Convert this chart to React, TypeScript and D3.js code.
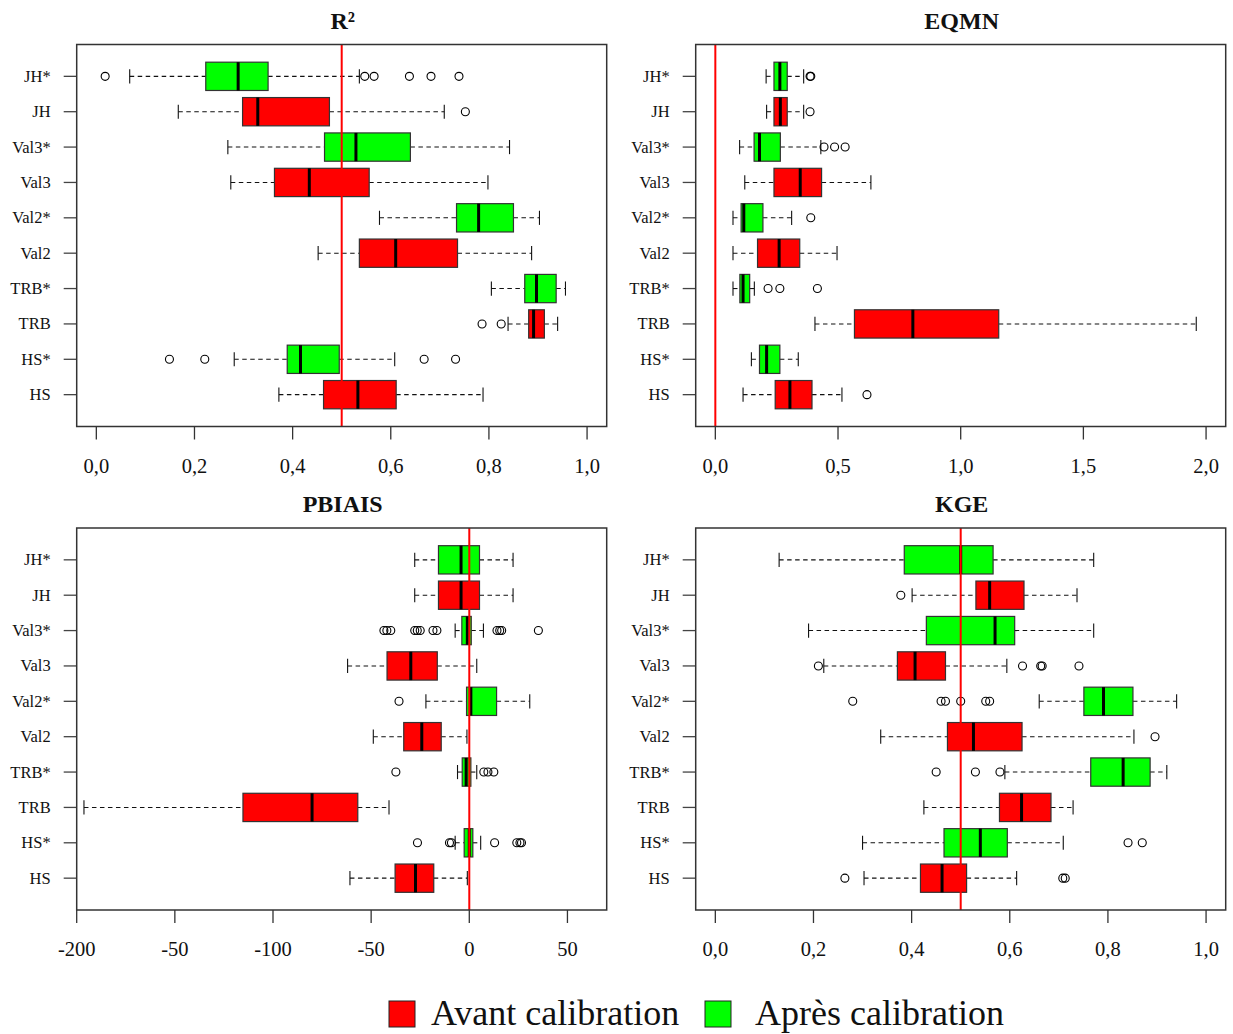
import React from "react";
import * as d3 from "d3";

// Categories from bottom (position 1) to top (position 10)
const categories = ["HS", "HS*", "TRB", "TRB*", "Val2", "Val2*", "Val3", "Val3*", "JH", "JH*"];

// Five-number summaries per category: [lower whisker, Q1, median, Q3, upper whisker]
const r2Stats = [
  [0.372, 0.463, 0.533, 0.611, 0.788],
  [0.281, 0.389, 0.416, 0.495, 0.608],
  [0.839, 0.881, 0.891, 0.913, 0.94],
  [0.805, 0.873, 0.897, 0.937, 0.956],
  [0.452, 0.536, 0.61, 0.736, 0.887],
  [0.577, 0.734, 0.779, 0.85, 0.903],
  [0.274, 0.363, 0.434, 0.556, 0.798],
  [0.268, 0.465, 0.529, 0.64, 0.842],
  [0.167, 0.298, 0.329, 0.475, 0.709],
  [0.068, 0.223, 0.289, 0.35, 0.536],
];
const r2Outliers = [
  [],
  [0.149, 0.221, 0.668, 0.732],
  [0.786, 0.825],
  [],
  [],
  [],
  [],
  [],
  [0.752],
  [0.018, 0.547, 0.566, 0.638, 0.682, 0.739],
];

const eqmnStats = [
  [0.113, 0.244, 0.304, 0.394, 0.516],
  [0.147, 0.18, 0.209, 0.263, 0.338],
  [0.406, 0.567, 0.805, 1.155, 1.96],
  [0.072, 0.1, 0.113, 0.14, 0.159],
  [0.072, 0.172, 0.26, 0.344, 0.496],
  [0.072, 0.105, 0.116, 0.194, 0.311],
  [0.12, 0.239, 0.346, 0.433, 0.634],
  [0.099, 0.158, 0.18, 0.265, 0.43],
  [0.209, 0.239, 0.265, 0.293, 0.36],
  [0.207, 0.239, 0.263, 0.293, 0.36],
];
const eqmnOutliers = [
  [0.618],
  [],
  [],
  [0.215, 0.263, 0.416],
  [],
  [0.389],
  [],
  [0.443, 0.486, 0.529],
  [0.386],
  [0.386, 0.389],
];

const pbiasStats = [
  [-60.8, -37.8, -27.4, -18.1, -1.0],
  [-7.2, -2.6, 0, 1.8, 5.8],
  [-196.3, -115.3, -80.1, -56.8, -40.9],
  [-6.0, -3.6, -1.6, 0.8, 3.8],
  [-48.9, -33.4, -24.2, -14.3, -1.2],
  [-22.1, -1.4, 0.8, 13.9, 30.8],
  [-62.0, -41.9, -29.8, -16.3, 3.8],
  [-7.2, -3.8, -1.0, 1.0, 7.2],
  [-27.8, -15.7, -4.2, 5.2, 22.3],
  [-27.8, -15.7, -4.2, 5.2, 22.3],
];
const pbiasOutliers = [
  [],
  [-26.4, -10.1, -9.1, 12.9, 24.2, 25.8, 26.6],
  [],
  [-37.4, 7.4, 9.5, 12.5],
  [],
  [-35.8],
  [],
  [-43.5, -42.0, -40.0, -27.8, -26.5, -25.0, -18.5, -16.5, 14.1, 15.5, 16.5, 35.2],
  [],
  [],
];

const kgeStats = [
  [0.303, 0.418, 0.462, 0.512, 0.614],
  [0.3, 0.466, 0.54, 0.595, 0.709],
  [0.425, 0.579, 0.624, 0.684, 0.729],
  [0.59, 0.765, 0.831, 0.886, 0.92],
  [0.337, 0.473, 0.526, 0.625, 0.853],
  [0.66, 0.751, 0.791, 0.851, 0.94],
  [0.221, 0.371, 0.407, 0.469, 0.594],
  [0.19, 0.43, 0.57, 0.61, 0.771],
  [0.401, 0.531, 0.559, 0.629, 0.737],
  [0.13, 0.385, 0.5, 0.566, 0.771],
];
const kgeOutliers = [
  [0.264, 0.708, 0.713],
  [0.841, 0.87],
  [],
  [0.45, 0.53, 0.58],
  [0.896],
  [0.28, 0.46, 0.469, 0.5, 0.551, 0.559],
  [0.21, 0.626, 0.663, 0.666, 0.741],
  [],
  [0.378],
  [],
];

const unitTicks = [0, 0.2, 0.4, 0.6, 0.8, 1.0];
const unitTickLabels = ["0,0", "0,2", "0,4", "0,6", "0,8", "1,0"];
const eqmnTicks = [0, 0.5, 1.0, 1.5, 2.0];
const eqmnTickLabels = ["0,0", "0,5", "1,0", "1,5", "2,0"];
const pbiasTicks = [-200, -150, -100, -50, 0, 50];
const pbiasTickLabels = ["-200", "-50", "-100", "-50", "0", "50"];

const legendLabels = ["Avant calibration", "Après calibration"];
const colorBefore = "#FF0000";
const colorAfter = "#00FF00";

const FONT = "'Liberation Serif', 'Times New Roman', serif";
const PW = 530;
const PH = 382;

type PanelProps = {
  title: string;
  left: number;
  top: number;
  domain: [number, number];
  ticks: number[];
  tickLabels: string[];
  refValue: number;
  stats: number[][];
  outliers: number[][];
};

function Panel({ title, left, top, domain, ticks, tickLabels, refValue, stats, outliers }: PanelProps) {
  const x = d3.scaleLinear().domain(domain).range([left, left + PW]);
  const y = d3.scaleLinear().domain([0.1, 10.9]).range([top + PH, top]);
  const bottom = top + PH;
  const half = 0.4;
  const staple = 0.2;

  return (
    <g>
      <text
        x={left + PW / 2 + 1}
        y={top - 16}
        textAnchor="middle"
        fontFamily={FONT}
        fontWeight="bold"
        fontSize={24}
        fill="#111"
      >
        {title}
      </text>

      {categories.map((cat, i) => {
        const pos = i + 1;
        const cy = y(pos);
        const [lo, q1, med, q3, hi] = stats[i];
        const fill = cat.endsWith("*") ? colorAfter : colorBefore;
        return (
          <g key={cat}>
            <line x1={left - 13} x2={left} y1={cy} y2={cy} stroke="#444" strokeWidth={1.3} />
            <text
              x={left - 26}
              y={cy + 5.5}
              textAnchor="end"
              fontFamily={FONT}
              fontSize={16.5}
              fill="#111"
            >
              {cat}
            </text>
            <line x1={x(lo)} x2={x(q1)} y1={cy} y2={cy} stroke="#111" strokeWidth={1.1} strokeDasharray="4.5,3.5" />
            <line x1={x(q3)} x2={x(hi)} y1={cy} y2={cy} stroke="#111" strokeWidth={1.1} strokeDasharray="4.5,3.5" />
            <line x1={x(lo)} x2={x(lo)} y1={y(pos + staple)} y2={y(pos - staple)} stroke="#111" strokeWidth={1.1} />
            <line x1={x(hi)} x2={x(hi)} y1={y(pos + staple)} y2={y(pos - staple)} stroke="#111" strokeWidth={1.1} />
            <rect
              x={x(q1)}
              y={y(pos + half)}
              width={x(q3) - x(q1)}
              height={y(pos - half) - y(pos + half)}
              fill={fill}
              stroke="#333"
              strokeWidth={1.2}
            />
            <line x1={x(med)} x2={x(med)} y1={y(pos + half)} y2={y(pos - half)} stroke="#000" strokeWidth={3} />
            {outliers[i].map((v, j) => (
              <circle key={j} cx={x(v)} cy={cy} r={4} fill="none" stroke="#000" strokeWidth={1.1} />
            ))}
          </g>
        );
      })}

      <line x1={x(refValue)} x2={x(refValue)} y1={top} y2={bottom} stroke="#FF0000" strokeWidth={2} />

      <rect x={left} y={top} width={PW} height={PH} fill="none" stroke="#333" strokeWidth={1.5} />

      {ticks.map((t, i) => (
        <g key={t}>
          <line x1={x(t)} x2={x(t)} y1={bottom} y2={bottom + 13} stroke="#333" strokeWidth={1.3} />
          <text
            x={x(t)}
            y={bottom + 46}
            textAnchor="middle"
            fontFamily={FONT}
            fontSize={20.5}
            fill="#111"
          >
            {tickLabels[i]}
          </text>
        </g>
      ))}
    </g>
  );
}

export default function App() {
  const LEFT_A = 76.7;
  const LEFT_B = 695.7;
  const TOP_A = 44.5;
  const TOP_B = 528;
  return (
    <svg
      width={1233}
      height={1034}
      style={{ position: "absolute", left: 0, top: 0, background: "#fff" }}
    >
      <rect x={0} y={0} width={1233} height={1034} fill="#fff" />
      <Panel
        title="R²"
        left={LEFT_A}
        top={TOP_A}
        domain={[-0.04, 1.04]}
        ticks={unitTicks}
        tickLabels={unitTickLabels}
        refValue={0.5}
        stats={r2Stats}
        outliers={r2Outliers}
      />
      <Panel
        title="EQMN"
        left={LEFT_B}
        top={TOP_A}
        domain={[-0.08, 2.08]}
        ticks={eqmnTicks}
        tickLabels={eqmnTickLabels}
        refValue={0}
        stats={eqmnStats}
        outliers={eqmnOutliers}
      />
      <Panel
        title="PBIAIS"
        left={LEFT_A}
        top={TOP_B}
        domain={[-200, 70]}
        ticks={pbiasTicks}
        tickLabels={pbiasTickLabels}
        refValue={0}
        stats={pbiasStats}
        outliers={pbiasOutliers}
      />
      <Panel
        title="KGE"
        left={LEFT_B}
        top={TOP_B}
        domain={[-0.04, 1.04]}
        ticks={unitTicks}
        tickLabels={unitTickLabels}
        refValue={0.5}
        stats={kgeStats}
        outliers={kgeOutliers}
      />

      <g fontFamily={FONT} fontSize={36} fill="#111">
        <rect x={389} y={1001} width={26} height={26} fill={colorBefore} stroke="#222" strokeWidth={1} />
        <text x={431} y={1025}>{legendLabels[0]}</text>
        <rect x={705} y={1001} width={26} height={26} fill={colorAfter} stroke="#222" strokeWidth={1} />
        <text x={755} y={1025}>{legendLabels[1]}</text>
      </g>
    </svg>
  );
}
